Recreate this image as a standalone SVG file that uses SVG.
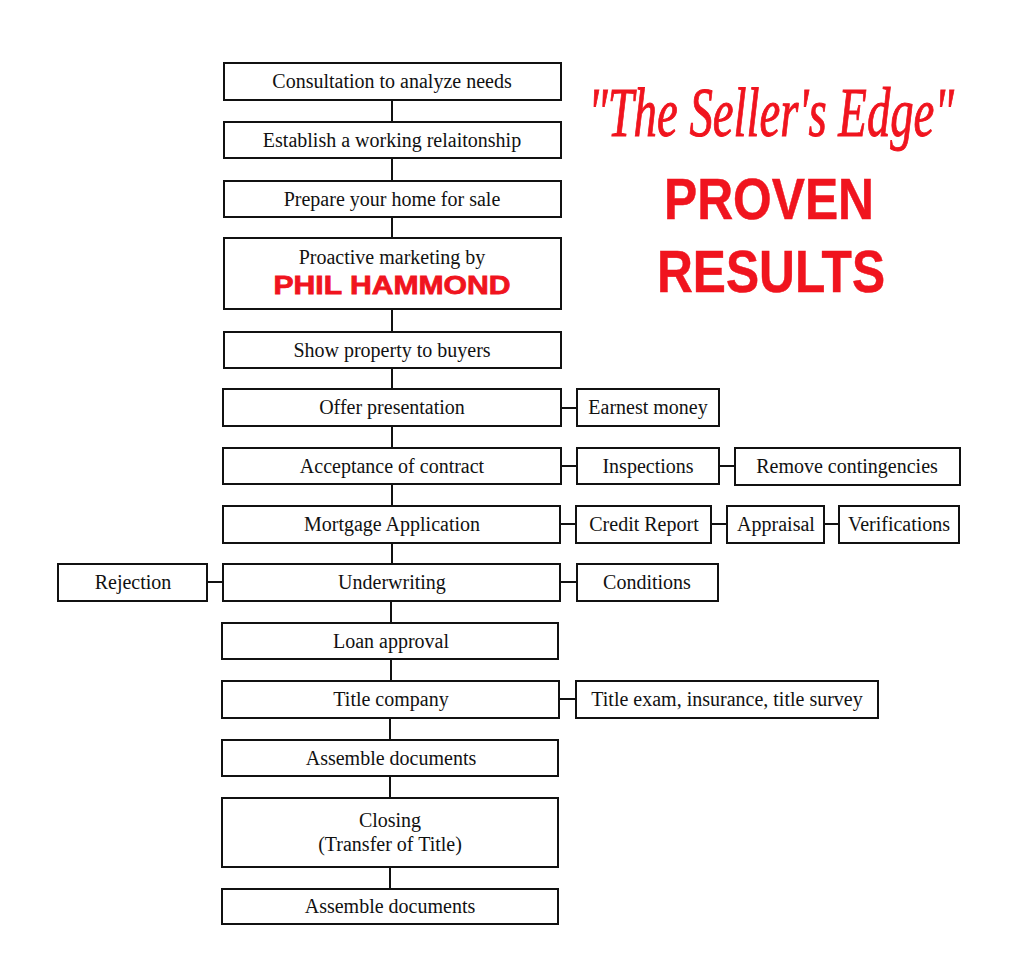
<svg xmlns="http://www.w3.org/2000/svg" width="1024" height="978" viewBox="0 0 1024 978">
<style>
.b{fill:#fff;stroke:#111;stroke-width:2}
.t{font-family:"Liberation Serif","Times New Roman",serif;font-size:20px;fill:#111;text-anchor:middle}
.c{stroke:#111;stroke-width:2;fill:none}
.red{fill:#f0141e;stroke:#f0141e;font-family:"Liberation Sans",Arial,sans-serif;font-weight:bold}
</style>
<rect width="1024" height="978" fill="#fff"/>
<g id="connectors">
<path class="c" d="M392 100V123M392 158V181M392 217V238M392 309V332M392 368V389M392 426V448M392 484V506M392 543V564M391 601V623M391 659V681M390 718V740M390 776V798M390 867V889"/>
<path class="c" d="M561 408H577M561 466H577M719 466H735M561 524H576M711 524H727M824 524H839M207 582H223M560 582H577M559 699H576"/>
</g>
<g id="n1"><rect class="b" x="224" y="63" width="337" height="37"/><text class="t" x="392" y="88">Consultation to analyze needs</text></g>
<g id="n2"><rect class="b" x="224" y="122" width="337" height="36"/><text class="t" x="392" y="147">Establish a working relaitonship</text></g>
<g id="n3"><rect class="b" x="224" y="181" width="337" height="36"/><text class="t" x="392" y="206">Prepare your home for sale</text></g>
<g id="n4"><rect class="b" x="224" y="238" width="337" height="71"/><text class="t" x="392" y="264">Proactive marketing by</text><text class="red" x="392" y="294" font-size="26" stroke-width="0.8" text-anchor="middle" textLength="237" lengthAdjust="spacingAndGlyphs">PHIL HAMMOND</text></g>
<g id="n5"><rect class="b" x="224" y="332" width="337" height="36"/><text class="t" x="392" y="357">Show property to buyers</text></g>
<g id="n6"><rect class="b" x="223" y="389" width="338" height="37"/><text class="t" x="392" y="414">Offer presentation</text></g>
<g id="n7"><rect class="b" x="223" y="448" width="338" height="36"/><text class="t" x="392" y="473">Acceptance of contract</text></g>
<g id="n8"><rect class="b" x="223" y="506" width="337" height="37"/><text class="t" x="392" y="531">Mortgage Application</text></g>
<g id="n9"><rect class="b" x="223" y="564" width="337" height="37"/><text class="t" x="392" y="589">Underwriting</text></g>
<g id="n10"><rect class="b" x="222" y="623" width="336" height="36"/><text class="t" x="391" y="648">Loan approval</text></g>
<g id="n11"><rect class="b" x="222" y="681" width="337" height="37"/><text class="t" x="391" y="706">Title company</text></g>
<g id="n12"><rect class="b" x="222" y="740" width="336" height="36"/><text class="t" x="391" y="765">Assemble documents</text></g>
<g id="n13"><rect class="b" x="222" y="798" width="336" height="69"/><text class="t" x="390" y="827">Closing</text><text class="t" x="390" y="851">(Transfer of Title)</text></g>
<g id="n14"><rect class="b" x="222" y="889" width="336" height="35"/><text class="t" x="390" y="913">Assemble documents</text></g>
<g id="rejection"><rect class="b" x="58" y="564" width="149" height="37"/><text class="t" x="133" y="589">Rejection</text></g>
<g id="earnest"><rect class="b" x="577" y="389" width="142" height="37"/><text class="t" x="648" y="414">Earnest money</text></g>
<g id="inspections"><rect class="b" x="577" y="448" width="142" height="36"/><text class="t" x="648" y="473">Inspections</text></g>
<g id="remove"><rect class="b" x="735" y="448" width="225" height="37"/><text class="t" x="847" y="473">Remove contingencies</text></g>
<g id="credit"><rect class="b" x="576" y="506" width="135" height="37"/><text class="t" x="644" y="531">Credit Report</text></g>
<g id="appraisal"><rect class="b" x="727" y="506" width="97" height="37"/><text class="t" x="776" y="531">Appraisal</text></g>
<g id="verifications"><rect class="b" x="839" y="506" width="120" height="37"/><text class="t" x="899" y="531">Verifications</text></g>
<g id="conditions"><rect class="b" x="577" y="564" width="141" height="37"/><text class="t" x="647" y="589">Conditions</text></g>
<g id="titleexam"><rect class="b" x="576" y="681" width="302" height="37"/><text class="t" x="727" y="706">Title exam, insurance, title survey</text></g>
<g id="title">
<text x="771" y="136" fill="#f0141e" stroke="#f0141e" stroke-width="1" font-family="'Liberation Serif',serif" font-style="italic" font-size="70" text-anchor="middle" textLength="366" lengthAdjust="spacingAndGlyphs">"The Seller's Edge"</text>
<text class="red" x="769" y="219" font-size="58" stroke-width="0.5" text-anchor="middle" textLength="210" lengthAdjust="spacingAndGlyphs">PROVEN</text>
<text class="red" x="771" y="292" font-size="60" stroke-width="0.5" text-anchor="middle" textLength="228" lengthAdjust="spacingAndGlyphs">RESULTS</text>
</g>
</svg>
